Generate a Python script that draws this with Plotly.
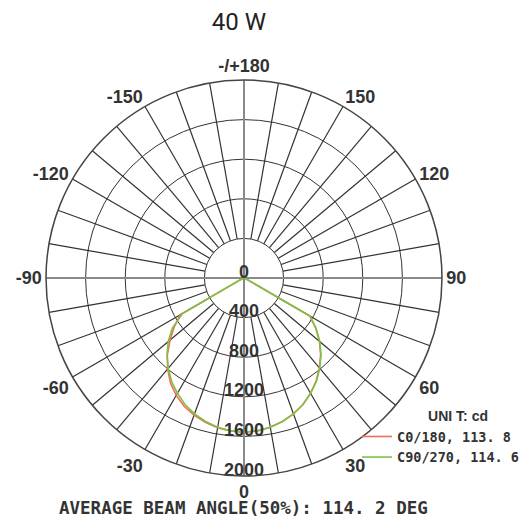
import numpy as np
import plotly.graph_objs as go

# photometric data (cd)
angles = [-90, -85, -80, -75, -70, -65, -60, -55, -50, -45, -40, -35, -30, -25, -20, -15, -10, -5,
          0, 5, 10, 15, 20, 25, 30, 35, 40, 45, 50, 55, 60, 65, 70, 75, 80, 85, 90]
c0_180 = [0, 0, 0, 0, 10, 40, 745, 860, 975, 1095, 1200, 1295, 1370, 1430, 1475, 1510, 1535, 1550,
          1560, 1550, 1530, 1500, 1460, 1410, 1345, 1270, 1185, 1095, 995, 885, 765, 30, 8, 0, 0, 0, 0]
c90_270 = [0, 0, 0, 0, 8, 30, 715, 885, 1000, 1100, 1190, 1275, 1345, 1410, 1460, 1500, 1530, 1550,
           1555, 1550, 1530, 1500, 1460, 1410, 1345, 1275, 1190, 1100, 1000, 890, 770, 30, 8, 0, 0, 0, 0]

radial_ticks = [0, 400, 800, 1200, 1600, 2000]
angle_ticks = [0, 30, 60, 90, 120, 150, 180, 210, 240, 270, 300, 330]
angle_labels = ['0', '30', '60', '90', '120', '150', '-/+180', '-150', '-120', '-90', '-60', '-30']

RED = '#f26b5b'
GREEN = '#7dc343'
DARK = '#333333'
LABEL_FONT = {'family': 'Liberation Sans', 'size': 18, 'color': DARK, 'weight': 'bold'}

# spokes every 10 degrees; the four main axes go through the centre
spoke_r, spoke_t, axis_r, axis_t = [], [], [], []
for a in range(0, 360, 10):
    if a % 90 == 0:
        axis_r += [0, radial_ticks[-1], None]
        axis_t += [a, a, None]
    else:
        spoke_r += [radial_ticks[1], radial_ticks[-1], None]
        spoke_t += [a, a, None]

# radial labels sit just above their circle on the downward axis
lift = 50
label_r = [abs(v - lift) for v in radial_ticks]
label_t = [0 if v >= lift else 180 for v in radial_ticks]

data = [
    go.Scatterpolar(r=spoke_r, theta=spoke_t, mode='lines', hoverinfo='skip', showlegend=False,
                    line={'color': DARK, 'width': 1.2}),
    go.Scatterpolar(r=axis_r, theta=axis_t, mode='lines', hoverinfo='skip', showlegend=False,
                    line={'color': '#8a8a8a', 'width': 2}),
    go.Scatterpolar(r=c0_180, theta=angles, mode='lines', name='C0/180, 113. 8',
                    line={'color': RED, 'width': 1.6}),
    go.Scatterpolar(r=c90_270, theta=angles, mode='lines', name='C90/270, 114. 6',
                    line={'color': GREEN, 'width': 1.6}),
    go.Scatterpolar(r=label_r, theta=label_t, mode='text', showlegend=False,
                    text=[str(v) for v in radial_ticks], textposition='middle center',
                    textfont=LABEL_FONT, hoverinfo='skip'),
]

layout = go.Layout(
    width=520, height=512,
    margin={'l': 0, 'r': 0, 't': 0, 'b': 0, 'autoexpand': False},
    paper_bgcolor='white',
    title={'text': '40 W', 'x': 0.444, 'xanchor': 'center', 'y': 0.99, 'yanchor': 'top',
           'pad': {'t': 0, 'b': 0},
           'font': {'family': 'Roboto', 'size': 24, 'color': '#222222'}},
    polar={
        'domain': {'x': [0.0731, 0.8346], 'y': [0.0859, 0.8594]},
        'bgcolor': 'white',
        'angularaxis': {'rotation': 270, 'direction': 'counterclockwise',
                        'tickvals': angle_ticks, 'ticktext': angle_labels,
                        'showgrid': False, 'ticks': '', 'showline': True,
                        'linecolor': '#444444', 'linewidth': 1.5, 'tickfont': LABEL_FONT},
        'radialaxis': {'range': [0, 2000], 'tickvals': radial_ticks[1:], 'showticklabels': False,
                       'ticks': '', 'showline': False, 'showgrid': True,
                       'gridcolor': DARK, 'gridwidth': 1.2},
    },
    legend={'x': 0.6712, 'y': 0.2285, 'xanchor': 'left', 'yanchor': 'top',
            'bgcolor': 'rgba(0,0,0,0)', 'itemwidth': 30,
            'title': {'text': '         UNI T: cd', 'side': 'top center',
                      'font': {'family': 'Liberation Sans', 'size': 14, 'color': DARK, 'weight': 'bold'}},
            'font': {'family': 'DejaVu Sans Mono', 'size': 13.5, 'color': DARK, 'weight': 'bold'}},
    annotations=[{'text': 'AVERAGE BEAM ANGLE(50%): 114. 2 DEG', 'showarrow': False,
                  'xref': 'paper', 'yref': 'paper', 'x': 0.4529, 'y': 0.0234,
                  'xanchor': 'center', 'yanchor': 'middle',
                  'font': {'family': 'DejaVu Sans Mono', 'size': 17.5, 'color': DARK, 'weight': 'bold'}}],
)

fig = go.Figure(data=data, layout=layout)
fig.write_html('out.html')
